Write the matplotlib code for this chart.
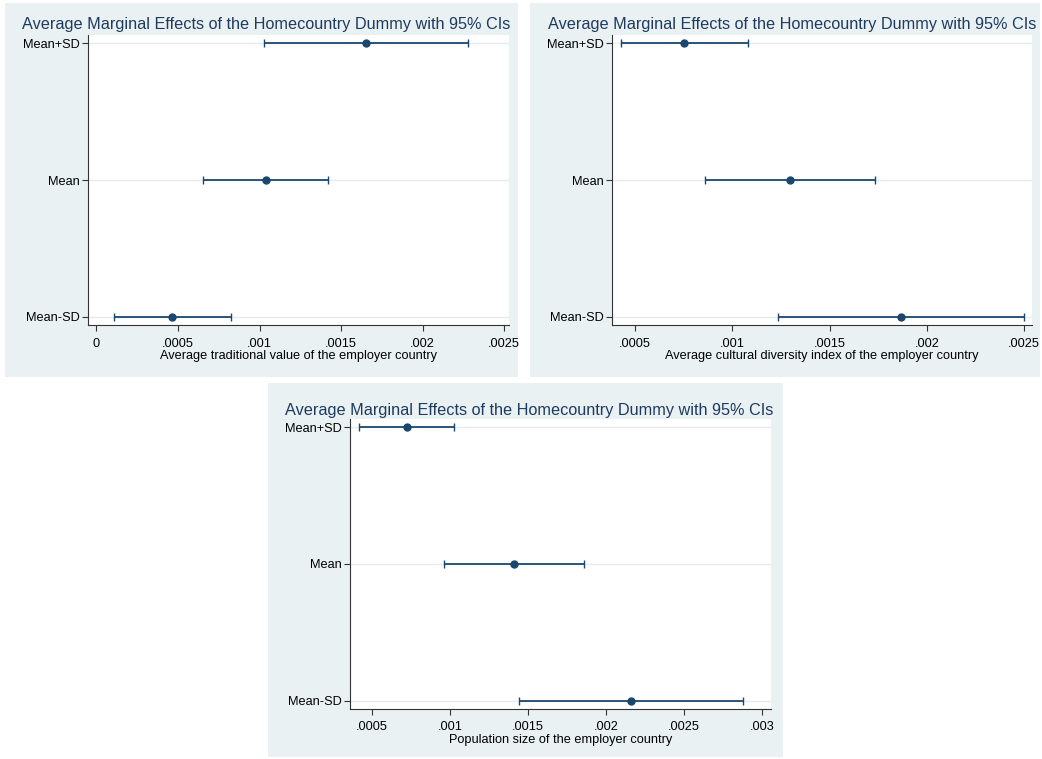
import matplotlib
matplotlib.use("Agg")
import matplotlib.pyplot as plt
from matplotlib.patches import Rectangle

plt.rcParams['font.family'] = ['Liberation Sans', 'DejaVu Sans']

rows = ["Mean-SD", "Mean", "Mean+SD"]
title = "Average Marginal Effects of the Homecountry Dummy with 95% CIs"

# panel 1: traditional value
trad_est = [0.000463, 0.00104, 0.001653]
trad_lo = [0.000107, 0.000655, 0.001028]
trad_hi = [0.000825, 0.00142, 0.00228]
trad_ticks = [0, 0.0005, 0.001, 0.0015, 0.002, 0.0025]
trad_labels = ["0", ".0005", ".001", ".0015", ".002", ".0025"]

# panel 2: cultural diversity
div_est = [0.001867, 0.001297, 0.000752]
div_lo = [0.001235, 0.00086, 0.000428]
div_hi = [0.0025, 0.001733, 0.001081]
div_ticks = [0.0005, 0.001, 0.0015, 0.002, 0.0025]
div_labels = [".0005", ".001", ".0015", ".002", ".0025"]

# panel 3: population size
pop_est = [0.00216, 0.00141, 0.000724]
pop_lo = [0.00144, 0.000963, 0.000417]
pop_hi = [0.00288, 0.00186, 0.001026]
pop_ticks = [0.0005, 0.001, 0.0015, 0.002, 0.0025, 0.003]
pop_labels = [".0005", ".001", ".0015", ".002", ".0025", ".003"]

W, H = 1042, 759
navy = '#1A476F'
bg = '#EAF1F3'

fig = plt.figure(figsize=(W / 100, H / 100), dpi=100)


def px_rect(x0, y0, x1, y1):
    return [x0 / W, 1 - y1 / H, (x1 - x0) / W, (y1 - y0) / H]


def panel(box, ax_box, title_xy, est, lo, hi, ticks, labels, xlim, xlabel):
    b = px_rect(*box)
    fig.patches.append(Rectangle((b[0], b[1]), b[2], b[3], transform=fig.transFigure,
                                 facecolor=bg, edgecolor='none', zorder=-5))
    ax = fig.add_axes(px_rect(*ax_box))
    ax.set_zorder(2)
    ax.set_facecolor('white')
    y = list(range(len(rows)))
    err = [[e - l for e, l in zip(est, lo)], [h - e for e, h in zip(est, hi)]]
    ax.errorbar(est, y, xerr=err, fmt='o', color=navy, ms=5, capsize=3,
                elinewidth=1.3, capthick=1.0, zorder=3)
    for yy in y:
        ax.axhline(yy, color='#E4ECEE', lw=1, zorder=1)
    ax.set_yticks(y)
    ax.set_yticklabels(rows, fontsize=9.2)
    ax.set_xticks(ticks)
    ax.set_xticklabels(labels, fontsize=9.2)
    ax.set_xlim(*xlim)
    ax.set_ylim(-0.06, 2.06)
    ax.spines['top'].set_visible(False)
    ax.spines['right'].set_visible(False)
    ax.spines['left'].set_color('#333333')
    ax.spines['bottom'].set_color('#333333')
    ax.tick_params(axis='y', direction='out', length=4, width=0.8, color='#333333', pad=2)
    ax.tick_params(axis='x', direction='out', length=4, width=0.8, color='#333333', pad=5)
    ax.set_xlabel(xlabel, fontsize=9.2, labelpad=0.5)
    fig.text(title_xy[0] / W, 1 - title_xy[1] / H, title, fontsize=11.7,
             color='#1E3A5F', ha='left', va='center')
    return ax


panel((5, 3, 518, 377), (88, 35, 509, 325), (22, 24),
      trad_est, trad_lo, trad_hi, trad_ticks, trad_labels, (-0.000052, 0.00253),
      "Average traditional value of the employer country")
panel((530, 3, 1040, 377), (612, 35, 1032, 325), (548, 24),
      div_est, div_lo, div_hi, div_ticks, div_labels, (0.000382, 0.00254),
      "Average cultural diversity index of the employer country")
panel((268, 383, 783, 757), (350, 419, 771, 709), (285, 410),
      pop_est, pop_lo, pop_hi, pop_ticks, pop_labels, (0.000359, 0.003058),
      "Population size of the employer country")

fig.savefig("out.png", dpi=100)
